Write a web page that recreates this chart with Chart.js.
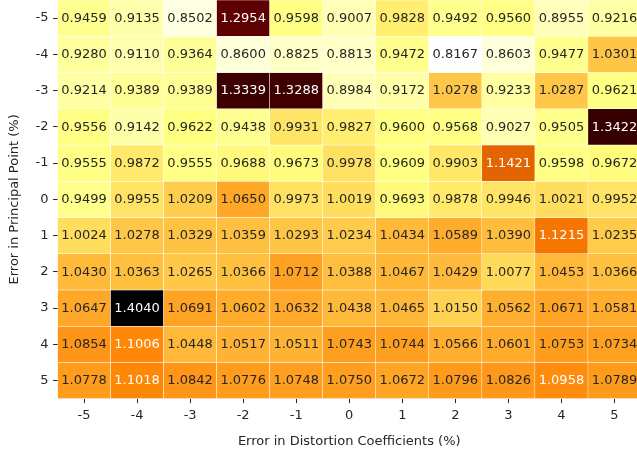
<!DOCTYPE html>
<html>
<head>
<meta charset="utf-8">
<script src="https://cdn.jsdelivr.net/npm/chart.js@4.4.1/dist/chart.umd.min.js"></script>
<style>
html,body{margin:0;padding:0;overflow:hidden;background:#fff;width:637px;height:452px;}
#wrap{position:absolute;left:0;top:0;width:641px;height:452px;}
</style>
</head>
<body>
<div id="wrap"><canvas id="c" width="641" height="452"></canvas></div>
<script>
const colLabels = ["-5","-4","-3","-2","-1","0","1","2","3","4","5"];
const rowLabels = ["-5","-4","-3","-2","-1","0","1","2","3","4","5"];
const xTitle = "Error in Distortion Coefficients (%)";
const yTitle = "Error in Principal Point (%)";

const rowM5 = [0.9459,0.9135,0.8502,1.2954,0.9598,0.9007,0.9828,0.9492,0.9560,0.8955,0.9216];
const rowM4 = [0.9280,0.9110,0.9364,0.8600,0.8825,0.8813,0.9472,0.8167,0.8603,0.9477,1.0301];
const rowM3 = [0.9214,0.9389,0.9389,1.3339,1.3288,0.8984,0.9172,1.0278,0.9233,1.0287,0.9621];
const rowM2 = [0.9556,0.9142,0.9622,0.9438,0.9931,0.9827,0.9600,0.9568,0.9027,0.9505,1.3422];
const rowM1 = [0.9555,0.9872,0.9555,0.9688,0.9673,0.9978,0.9609,0.9903,1.1421,0.9598,0.9672];
const row0  = [0.9499,0.9955,1.0209,1.0650,0.9973,1.0019,0.9693,0.9878,0.9946,1.0021,0.9952];
const rowP1 = [1.0024,1.0278,1.0329,1.0359,1.0293,1.0234,1.0434,1.0589,1.0390,1.1215,1.0235];
const rowP2 = [1.0430,1.0363,1.0265,1.0366,1.0712,1.0388,1.0467,1.0429,1.0077,1.0453,1.0366];
const rowP3 = [1.0647,1.4040,1.0691,1.0602,1.0632,1.0438,1.0465,1.0150,1.0562,1.0671,1.0581];
const rowP4 = [1.0854,1.1006,1.0448,1.0517,1.0511,1.0743,1.0744,1.0566,1.0601,1.0753,1.0734];
const rowP5 = [1.0778,1.1018,1.0842,1.0776,1.0748,1.0750,1.0672,1.0796,1.0826,1.0958,1.0789];
const rows = [rowM5,rowM4,rowM3,rowM2,rowM1,row0,rowP1,rowP2,rowP3,rowP4,rowP5];

const all = rows.flat();
const vmin = Math.min(...all), vmax = Math.max(...all);

// afmhot_r colormap
function cmap(v){
  const t = 1 - (v - vmin) / (vmax - vmin);
  const cl = x => Math.max(0, Math.min(1, x));
  return [cl(2*t), cl(2*t-0.5), cl(2*t-1)];
}
function rgbStr(c){ return 'rgb(' + c.map(x=>Math.round(x*255)).join(',') + ')'; }
function lum(c){
  const lin = x => x <= 0.03928 ? x/12.92 : Math.pow((x+0.055)/1.055, 2.4);
  return 0.2126*lin(c[0]) + 0.7152*lin(c[1]) + 0.0722*lin(c[2]);
}

const FONT = "'DejaVu Sans', sans-serif";
const FS = 13;
const TXT = '#262626';

const datasets = rows.map((vals, r) => {
  const rv = Number(rowLabels[r]);
  return {
    label: rowLabels[r],
    data: vals.map(() => [rv - 0.5, rv + 0.5]),
    values: vals,
    backgroundColor: vals.map(v => rgbStr(cmap(v))),
    borderColor: '#ffffff',
    borderWidth: 0.5,
    borderSkipped: false,
    grouped: false,
    barPercentage: 1,
    categoryPercentage: 1
  };
});

const annot = {
  id: 'annot',
  afterDatasetsDraw(chart){
    const ctx = chart.ctx;
    const xs = chart.scales.x, ys = chart.scales.y;
    ctx.save();
    ctx.font = FS + 'px ' + FONT;
    ctx.textAlign = 'center';
    ctx.textBaseline = 'middle';
    chart.data.datasets.forEach((ds, r) => {
      const yv = Number(rowLabels[r]);
      ds.values.forEach((v, i) => {
        const c = cmap(v);
        ctx.fillStyle = lum(c) > 0.408 ? TXT : '#ffffff';
        ctx.fillText(v.toFixed(4), xs.getPixelForValue(i), ys.getPixelForValue(yv) + 0.5);
      });
    });
    ctx.restore();
  }
};

new Chart(document.getElementById('c'), {
  type: 'bar',
  data: { labels: colLabels, datasets },
  plugins: [annot],
  options: {
    responsive: false,
    animation: false,
    devicePixelRatio: 1,
    layout: { padding: 0 },
    plugins: { legend: { display: false }, tooltip: { enabled: false } },
    scales: {
      x: {
        type: 'category',
        offset: true,
        grid: { offset: false, drawOnChartArea: false, drawTicks: true, tickLength: 4.4, color: TXT, lineWidth: 1 },
        border: { display: false },
        ticks: { font: { family: FONT, size: FS }, color: TXT, padding: 4.5, maxRotation: 0, autoSkip: false },
        title: { display: true, text: xTitle, font: { family: FONT, size: FS }, color: TXT, padding: { top: 0, bottom: 3 } },
        afterFit(s){ s.height = 53.3; s.paddingLeft = 0; s.paddingRight = 0; }
      },
      y: {
        type: 'linear',
        min: -5.5, max: 5.5,
        reverse: true,
        afterBuildTicks(s){ s.ticks = rowLabels.map(l => ({ value: Number(l) })); },
        grid: { drawOnChartArea: false, drawTicks: true, tickLength: 4.4, color: TXT, lineWidth: 1 },
        border: { display: false },
        ticks: { font: { family: FONT, size: FS }, color: TXT, padding: 4.6, autoSkip: false,
                 callback: (v) => rowLabels.find(l => Number(l) === v) },
        title: { display: true, text: yTitle, font: { family: FONT, size: FS }, color: TXT, padding: { top: 6.4, bottom: 0 } },
        afterFit(s){ s.width = 57.5; s.paddingTop = 0; s.paddingBottom = 0; }
      }
    }
  }
});
</script>
</body>
</html>
